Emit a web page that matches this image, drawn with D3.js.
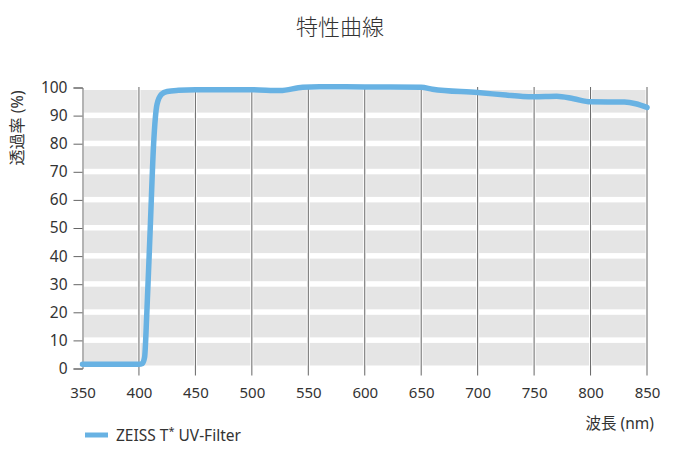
<!DOCTYPE html>
<html>
<head>
<meta charset="utf-8">
<script src="https://cdn.jsdelivr.net/npm/d3@7"></script>
<style>
  body { margin: 0; background: #fff; }
  text { font-family: "Noto Sans", "Noto Sans CJK JP", sans-serif; fill: #333; }
</style>
</head>
<body>
<div id="wrapper"></div>
<script>
// data
const wavelengths = [350, 400, 403, 405, 407, 410, 413, 416, 420, 425, 435, 450, 500, 525, 545, 560, 600, 650, 660, 700, 725, 740, 750, 770, 785, 800, 830, 840, 850]
const transmission = [1.5, 1.5, 1.8, 4, 20, 50, 80, 94, 97.6, 98.6, 99.0, 99.2, 99.2, 98.9, 100.1, 100.3, 100.2, 100.1, 99.4, 98.2, 97.3, 96.8, 96.7, 96.9, 96.0, 94.9, 94.8, 94.2, 92.9]
const xTicks = [350, 400, 450, 500, 550, 600, 650, 700, 750, 800, 850]
const yTicks = [0, 10, 20, 30, 40, 50, 60, 70, 80, 90, 100]
const seriesName = "ZEISS T"

const dimensions = {
  width: 679,
  height: 458,
  margin: { top: 87.5, right: 32, bottom: 89.5, left: 82.5 },
}
dimensions.boundedWidth = dimensions.width - dimensions.margin.left - dimensions.margin.right
dimensions.boundedHeight = dimensions.height - dimensions.margin.top - dimensions.margin.bottom

const lineColor = "#68b2e3"

const wrapper = d3.select("#wrapper")
  .append("svg")
  .attr("width", dimensions.width)
  .attr("height", dimensions.height)

const bounds = wrapper.append("g")
  .attr("transform", `translate(${dimensions.margin.left},${dimensions.margin.top})`)

const xScaler = d3.scaleLinear()
  .domain([350, 850])
  .range([0, dimensions.boundedWidth])

const yScaler = d3.scaleLinear()
  .domain([0, 100])
  .range([dimensions.boundedHeight, 0])

// grey cells between the grid lines
const cells = []
for (let i = 0; i < xTicks.length - 1; i++) {
  for (let j = 0; j < yTicks.length - 1; j++) {
    cells.push({ x0: xTicks[i], x1: xTicks[i + 1], y0: yTicks[j], y1: yTicks[j + 1] })
  }
}
bounds.append("g")
  .selectAll("rect")
  .data(cells)
  .join("rect")
  .attr("x", d => xScaler(d.x0) + 1.5)
  .attr("width", d => xScaler(d.x1) - xScaler(d.x0) - 3)
  .attr("y", d => yScaler(d.y1) + 2.5)
  .attr("height", d => yScaler(d.y0) - yScaler(d.y1) - 5.5)
  .attr("fill", "#e5e5e5")

// vertical grid lines, running a bit below the plot
bounds.append("g")
  .selectAll("line")
  .data(xTicks.slice(1))
  .join("line")
  .attr("x1", d => xScaler(d))
  .attr("x2", d => xScaler(d))
  .attr("y1", -0.5)
  .attr("y2", dimensions.boundedHeight + 7)
  .attr("stroke", "#666")
  .attr("stroke-width", 1)

// y axis
const yAxisGenerator = d3.axisLeft(yScaler)
  .tickValues(yTicks)
  .tickSize(9)
  .tickPadding(6)
const yAxis = bounds.append("g").call(yAxisGenerator)
yAxis.select(".domain").attr("stroke", "#666")
yAxis.selectAll(".tick line").attr("stroke", "#666")
yAxis.selectAll(".tick text")
  .attr("font-size", 15.5)
  .attr("font-family", "'Noto Sans', sans-serif")
  .attr("fill", "#333")

// x axis labels only
const xAxisGenerator = d3.axisBottom(xScaler)
  .tickValues(xTicks)
  .tickSize(0)
  .tickPadding(19)
const xAxis = bounds.append("g")
  .attr("transform", `translate(0,${dimensions.boundedHeight})`)
  .call(xAxisGenerator)
xAxis.select(".domain").remove()
xAxis.selectAll(".tick text")
  .attr("font-size", 15)
  .attr("font-family", "'Noto Sans', sans-serif")
  .attr("fill", "#333")

// curve
const lineGenerator = d3.line()
  .x((d, i) => xScaler(wavelengths[i]))
  .y(d => yScaler(d))
  .curve(d3.curveMonotoneX)

bounds.append("path")
  .attr("d", lineGenerator(transmission))
  .attr("fill", "none")
  .attr("stroke", lineColor)
  .attr("stroke-width", 5.5)
  .attr("stroke-linejoin", "round")
  .attr("stroke-linecap", "round")

// titles
wrapper.append("text")
  .attr("x", 340)
  .attr("y", 35)
  .attr("text-anchor", "middle")
  .attr("font-size", 22)
  .attr("font-weight", 300)
  .text("特性曲線")

wrapper.append("text")
  .attr("transform", "translate(23,128) rotate(-90)")
  .attr("text-anchor", "middle")
  .attr("font-size", 16)
  .text("透過率 (%)")

wrapper.append("text")
  .attr("x", 654)
  .attr("y", 429)
  .attr("text-anchor", "end")
  .attr("font-size", 15.5)
  .text("波長 (nm)")

// legend
const legend = wrapper.append("g")
  .attr("transform", "translate(85,435)")
legend.append("line")
  .attr("x1", 0)
  .attr("x2", 23)
  .attr("stroke", lineColor)
  .attr("stroke-width", 5)
const legendText = legend.append("text")
  .attr("x", 31)
  .attr("y", 5.5)
  .attr("font-size", 15.5)
legendText.append("tspan").text(seriesName)
legendText.append("tspan").attr("font-size", 11).attr("dy", -6).text("*")
legendText.append("tspan").attr("dy", 6).text(" UV-Filter")
</script>
</body>
</html>
